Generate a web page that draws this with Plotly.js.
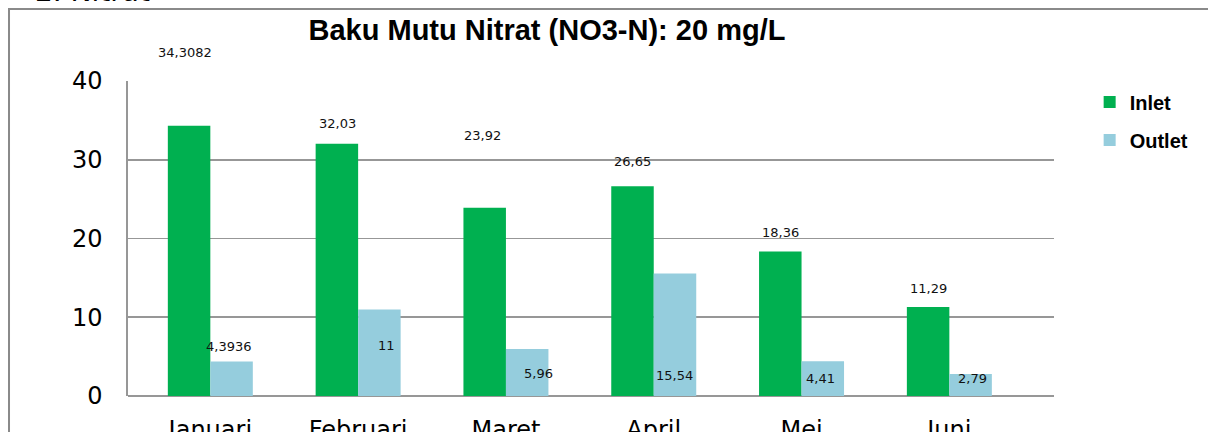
<!DOCTYPE html>
<html>
<head>
<meta charset="utf-8">
<script src="https://cdn.plot.ly/plotly-3.0.1.min.js"></script>
<style>html,body{margin:0;padding:0;background:#fff;}#chart{width:1208px;height:432px;}</style>
</head>
<body>
<div id="chart"></div>
<script>
// ---- data ----
const months = ["Januari", "Februari", "Maret", "April", "Mei", "Juni"];
const inlet = [34.3082, 32.03, 23.92, 26.65, 18.36, 11.29];
const outlet = [4.3936, 11, 5.96, 15.54, 4.41, 2.79];
const yTicks = [0, 10, 20, 30, 40];

// ---- label placement (pixel offsets, style only) ----
const inletShiftY = [73, 20, 72, 25, 19, 19];
const inletShiftX = [-4, 0, -2, 0, 0, 0];
const outletShiftY = [15, -36, -24, -102, -17, -4];
const outletShiftX = [-2, 7, 12, 0, -2, 2];

const fmt = v => String(v).replace('.', ',');
const labelFont = {family: "DejaVu Sans", size: 13, color: "#111"};

const annotations = [];
months.forEach((m, i) => {
  annotations.push({x: m, y: inlet[i], xref: 'x', yref: 'y', text: fmt(inlet[i]), showarrow: false,
    xshift: -21 + inletShiftX[i], yshift: inletShiftY[i], font: labelFont});
  annotations.push({x: m, y: outlet[i], xref: 'x', yref: 'y', text: fmt(outlet[i]), showarrow: false,
    xshift: 21 + outletShiftX[i], yshift: outletShiftY[i], font: labelFont});
});
annotations.push({x: -0.1026, y: 1.2245, xref: 'paper', yref: 'paper', xanchor: 'left', yanchor: 'bottom',
  text: '2. Nitrat', showarrow: false, font: {family: "DejaVu Sans", size: 28, color: '#000'}});

const traces = [
  {type: 'bar', name: 'Inlet', x: months, y: inlet, marker: {color: '#00B050'}, legendgroup: 'a', hoverinfo: 'none'},
  {type: 'bar', name: 'Outlet', x: months, y: outlet, marker: {color: '#95CDDD'}, legendgroup: 'b', hoverinfo: 'none'}
];

const layout = {
  width: 1208, height: 432,
  margin: {l: 128, r: 154, t: 81, b: 36, pad: 0},
  paper_bgcolor: '#fff', plot_bgcolor: '#fff',
  barmode: 'group', bargap: 0.425, bargroupgap: 0,
  title: {text: 'Baku Mutu Nitrat (NO3-N): 20 mg/L', xref: 'container', x: 0.4528, xanchor: 'center',
    yref: 'container', y: 0.93, yanchor: 'middle',
    font: {family: 'Liberation Sans, Arial', size: 29, color: '#000', weight: 'bold'}},
  xaxis: {type: 'category', range: [-0.557, 5.708], showgrid: false, showline: false, zeroline: false,
    ticks: '', tickfont: {family: 'DejaVu Sans', size: 24, color: '#000'}, ticklabelstandoff: 17, fixedrange: true},
  yaxis: {range: [0, 40], tickvals: yTicks, ticktext: yTicks.map(String), showgrid: true, gridcolor: '#979797', gridwidth: 1.6,
    showline: true, linecolor: '#979797', linewidth: 1.6, zeroline: true, zerolinecolor: '#979797', zerolinewidth: 1.6,
    ticks: '', tickfont: {family: 'DejaVu Sans', size: 24, color: '#000'}, ticklabelstandoff: 19, fixedrange: true},
  legend: {x: 1.0385, y: 0.995, xanchor: 'left', yanchor: 'top', traceorder: 'grouped', tracegroupgap: 9,
    font: {family: 'Liberation Sans, Arial', size: 20, color: '#000', weight: 'bold'}, bgcolor: 'rgba(0,0,0,0)'},
  shapes: [{type: 'rect', xref: 'paper', yref: 'paper', x0: -0.1285, x1: 1.3, y0: -0.3, y1: 1.2286,
    line: {color: '#8a8a8a', width: 2}, fillcolor: 'rgba(0,0,0,0)', layer: 'below'}],
  annotations: annotations,
  showlegend: true
};

Plotly.newPlot('chart', traces, layout, {displayModeBar: false, staticPlot: true});
</script>
</body>
</html>
